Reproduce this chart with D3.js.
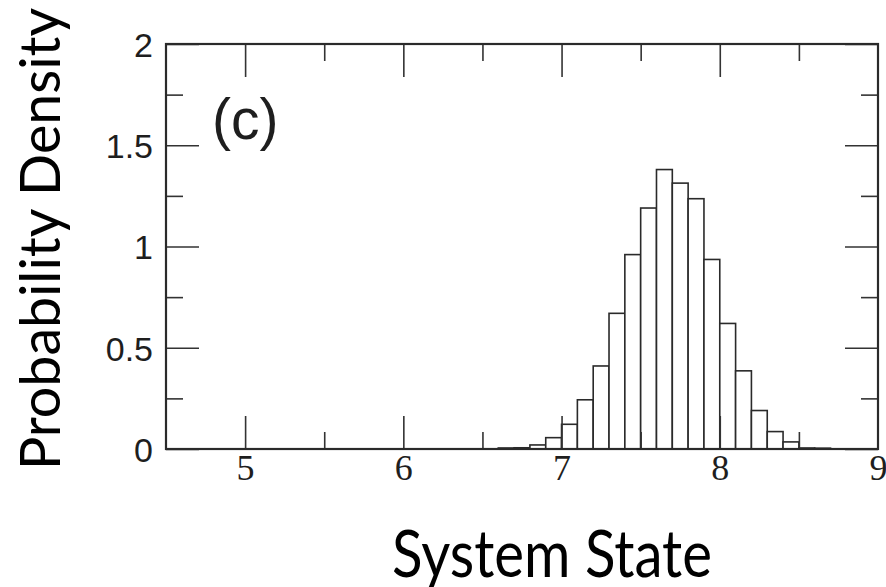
<!DOCTYPE html>
<html lang="en">
<head>
<meta charset="utf-8">
<title>Probability Density histogram</title>
<script src="https://d3js.org/d3.v7.min.js"></script>
<style>
  body { margin: 0; background: #fff; }
  .ylab text { font-family: "Liberation Sans", Arial, Helvetica, sans-serif; font-size: 34px; fill: #1e1e1e; }
  .xlab text { font-family: "Liberation Serif", "Times New Roman", serif; font-size: 36px; fill: #1e1e1e; }
  .tick line { stroke: #333; stroke-width: 1.6px; }
  .title { font-family: Lato, "Open Sans", sans-serif; fill: #000; }
  .panel { font-family: "Liberation Sans", Arial, Helvetica, sans-serif; font-size: 57px; fill: #1e1e1e; }
</style>
</head>
<body>
<div id="chart"></div>
<script>
// histogram bins (left edge of each 0.1 wide bin) and their density
var binStart = [6.6, 6.7, 6.8, 6.9, 7.0, 7.1, 7.2, 7.3, 7.4, 7.5, 7.6,
                7.7, 7.8, 7.9, 8.0, 8.1, 8.2, 8.3, 8.4, 8.5, 8.6];
var density  = [0.005, 0.006, 0.02, 0.056, 0.122, 0.243, 0.41, 0.67, 0.96, 1.19, 1.38,
                1.313, 1.236, 0.936, 0.62, 0.386, 0.19, 0.086, 0.035, 0.005, 0.004];
var binWidth = 0.1;

var xMajor = [5, 6, 7, 8, 9];
var xMinor = [5.5, 6.5, 7.5, 8.5];
var yMajor = [0, 0.5, 1, 1.5, 2];
var yMinor = [0.25, 0.75, 1.25, 1.75];

var W = 886, H = 587;
var plotL = 166, plotR = 878, plotT = 44, plotB = 449;

var svg = d3.select("#chart").append("svg")
    .attr("width", W).attr("height", H);

var x = d3.scaleLinear().domain([4.5, 9]).range([plotL, plotR]);
var y = d3.scaleLinear().domain([0, 2]).range([plotB, plotT]);

// bars
svg.selectAll("rect.bar")
  .data(binStart)
  .enter()
  .append("rect")
    .attr("class", "bar")
    .attr("x", function(d) { return x(d); })
    .attr("width", function(d) { return x(d + binWidth) - x(d); })
    .attr("y", function(d, i) { return y(density[i]); })
    .attr("height", function(d, i) { return y(0) - y(density[i]); })
    .attr("fill", "#fff")
    .attr("stroke", "#2a2a2a")
    .attr("stroke-width", 1.6);

// inward ticks on all four sides
function addAxis(axis, tx, ty, cls) {
  var g = svg.append("g")
    .attr("class", cls || "")
    .attr("transform", "translate(" + tx + "," + ty + ")")
    .call(axis);
  g.select(".domain").remove();
  return g;
}

var yl = addAxis(d3.axisLeft(y).tickValues(yMajor).tickSize(-33).tickPadding(13)
          .tickFormat(function(d) { return String(d); }), plotL, 0, "ylab");
yl.selectAll("text").attr("dy", "0.36em");
addAxis(d3.axisLeft(y).tickValues(yMinor).tickSize(-17).tickFormat(""), plotL, 0);
addAxis(d3.axisRight(y).tickValues(yMajor).tickSize(-33).tickFormat(""), plotR, 0);
addAxis(d3.axisRight(y).tickValues(yMinor).tickSize(-17).tickFormat(""), plotR, 0);

var xb = addAxis(d3.axisBottom(x).tickValues(xMajor).tickSize(-33).tickFormat(d3.format("d")), 0, plotB, "xlab");
xb.selectAll("text").attr("y", 31).attr("dy", 0);
xb.selectAll(".tick").filter(function(d) { return d === 9; }).select("line").remove();
addAxis(d3.axisBottom(x).tickValues(xMinor).tickSize(-17).tickFormat(""), 0, plotB);
addAxis(d3.axisTop(x).tickValues(xMajor.slice(0, 4)).tickSize(-33).tickFormat(""), 0, plotT);
addAxis(d3.axisTop(x).tickValues(xMinor).tickSize(-17).tickFormat(""), 0, plotT);

// frame
svg.append("rect")
  .attr("x", plotL).attr("y", plotT)
  .attr("width", plotR - plotL).attr("height", plotB - plotT)
  .attr("fill", "none")
  .attr("stroke", "#2a2a2a")
  .attr("stroke-width", 2.2);

// panel label
svg.append("text")
  .attr("class", "panel")
  .attr("x", 212).attr("y", 139)
  .text("(c)");

// axis titles
svg.append("text")
  .attr("class", "title")
  .attr("x", 392).attr("y", 577)
  .attr("textLength", 320)
  .attr("lengthAdjust", "spacingAndGlyphs")
  .style("font-size", "66px")
  .text("System State");

svg.append("text")
  .attr("class", "title")
  .attr("transform", "translate(60,470) rotate(-90)")
  .attr("x", 0).attr("y", 0)
  .attr("textLength", 462)
  .attr("lengthAdjust", "spacingAndGlyphs")
  .style("font-size", "56px")
  .text("Probability Density");
</script>
</body>
</html>
